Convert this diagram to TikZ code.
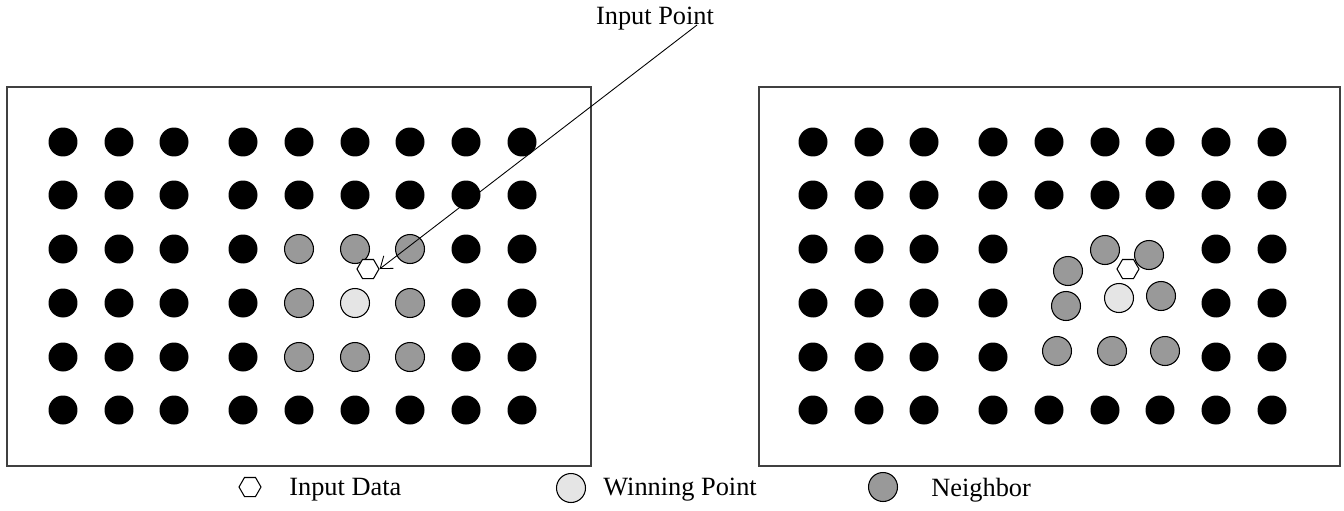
\documentclass[tikz,border=0pt]{standalone}
\usepackage{fontspec}
\setmainfont{Liberation Serif}
\usetikzlibrary{arrows.meta,shapes.geometric}

\tikzset{
  frame/.style={draw=black!75,line width=0.6pt},
  unit/.style={circle,fill=black,inner sep=0pt,minimum size=0.58cm},
  winner/.style={circle,draw=black,line width=0.6pt,fill=black!10,inner sep=0pt,minimum size=0.58cm},
  neigh/.style={circle,draw=black,line width=0.6pt,fill=black!40,inner sep=0pt,minimum size=0.58cm},
  datum/.style={regular polygon,regular polygon sides=6,draw=black,line width=0.6pt,fill=white,inner sep=0pt,minimum size=0.44cm},
  lbl/.style={font=\fontsize{15}{18}\selectfont,inner sep=0pt}
}

\begin{document}
\begin{tikzpicture}[x=0.02cm,y=-0.02cm,>=Latex]
    \useasboundingbox (0,0) rectangle (1344,510);

    % the two maps
    \draw[frame] (7,87) rectangle (591,466);
    \draw[frame] (759,87) rectangle (1340,466);

    % map before update
    \foreach \x in {63,119,174,243,299,355,410,466,522}
      \foreach \y in {142,195,410}
        \node[unit] at (\x,\y) {};
    \foreach \x in {63,119,174,243,466,522}
      \foreach \y in {249,303,357}
        \node[unit] at (\x,\y) {};
    \foreach \x/\y in {299/249,355/249,410/249,299/303,410/303,299/357,355/357,410/357}
      \node[neigh] at (\x,\y) {};
    \node[winner] (winL) at (355,303) {};
    \node[datum] (hexL) at (368,269) {};

    % map after update
    \foreach \x in {813,869,924,993,1049,1105,1160,1216,1272}
      \foreach \y in {142,195,410}
        \node[unit] at (\x,\y) {};
    \foreach \x in {813,869,924,993,1216,1272}
      \foreach \y in {249,303,357}
        \node[unit] at (\x,\y) {};
    \foreach \x/\y in {1105/250,1149/255,1068/271,1066/306,1161/296,1057/351,1112/351,1165/351}
      \node[neigh] at (\x,\y) {};
    \node[winner] (winR) at (1119,298) {};
    \node[datum] (hexR) at (1128,269) {};

    % input point
    \node[lbl] (inpt) at (655,19) {Input Point};
    \coordinate (ptr) at (697,25);
    \draw[-{Straight Barb[length=6pt,width=9pt]},line width=0.5pt] (ptr) -- (hexL.east);

    % legend
    \node[datum] (legD) at (250,487) {};
    \node[lbl,anchor=west] (txtD) at (289,490) {Input Data};
    \node[winner] (legW) at (571,488) {};
    \node[lbl,anchor=west] (txtW) at (603,490) {Winning Point};
    \node[neigh] (legN) at (883,487) {};
    \node[lbl,anchor=west] (txtN) at (931,490) {Neighbor};
\end{tikzpicture}
\end{document}
